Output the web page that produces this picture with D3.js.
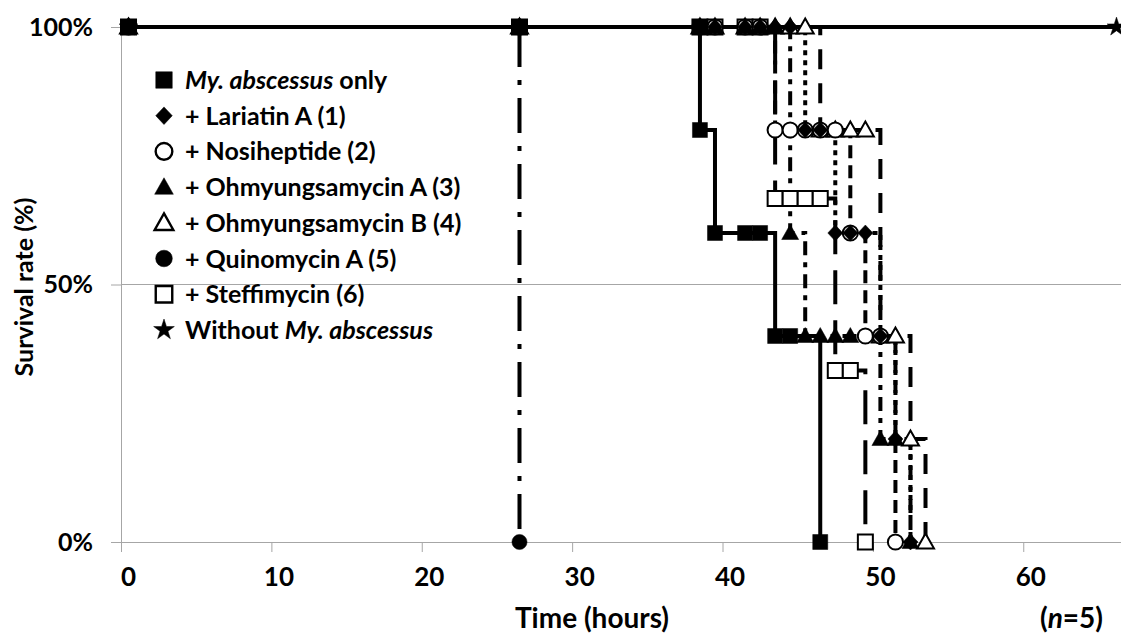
<!DOCTYPE html>
<html>
<head>
<meta charset="utf-8">
<script src="https://cdn.jsdelivr.net/npm/d3@7"></script>
<style>
  body { margin: 0; background: #fff; }
  svg { display: block; font-family: Lato, "Open Sans", sans-serif; font-weight: 700; }
</style>
</head>
<body>
<svg id="chart" width="1121" height="637"></svg>
<script>
// survival (%) observations per group, [hours, percent]
const abscessusOnly = [[0.5,100],[26.5,100],[38.5,100],[38.5,80],[39.5,60],[41.5,60],[42.5,60],[43.5,40],[44.5,40],[46.5,0]];
const lariatinA = [[0.5,100],[26.5,100],[38.5,100],[39.5,100],[41.5,100],[42.5,100],[43.5,100],[44.5,100],[45.5,80],[46.5,80],[47.5,60],[48.5,60],[49.5,60],[50.5,40],[51.5,20],[52.5,0]];
const nosiheptide = [[0.5,100],[26.5,100],[38.5,100],[39.5,100],[41.5,100],[42.5,100],[43.5,80],[44.5,80],[45.5,80],[46.5,80],[47.5,80],[48.5,60],[49.5,40],[50.5,40],[51.5,0]];
const ohmyungA = [[0.5,100],[26.5,100],[38.5,100],[39.5,100],[41.5,100],[42.5,100],[43.5,100],[44.5,60],[45.5,40],[46.5,40],[47.5,40],[48.5,40],[50.5,20],[51.5,20],[52.5,0]];
const ohmyungB = [[0.5,100],[26.5,100],[38.5,100],[39.5,100],[41.5,100],[42.5,100],[43.5,100],[44.5,100],[45.5,100],[46.5,80],[47.5,80],[48.5,80],[49.5,80],[50.5,40],[51.5,40],[52.5,20],[53.5,0]];
const quinomycinA = [[0.5,100],[26.5,0]];
const steffimycin = [[0.5,100],[26.5,100],[38.5,100],[39.5,100],[41.5,100],[42.5,100],[43.5,66.7],[44.5,66.7],[45.5,66.7],[46.5,66.7],[47.5,33.3],[48.5,33.3],[49.5,0]];
const withoutAbscessus = [[0.5,100],[66.2,100]];

const xTicks = [0, 10, 20, 30, 40, 50, 60];
const yTicks = [0, 50, 100];

// legend order
const legendItems = [
  {sym: "square", fill: "#000", parts: [["My. abscessus", true], [" only", false]]},
  {sym: "diamond", fill: "#000", parts: [["+ Lariatin A (1)", false]]},
  {sym: "circle", fill: "#fff", parts: [["+ Nosiheptide (2)", false]]},
  {sym: "triangle", fill: "#000", parts: [["+ Ohmyungsamycin A (3)", false]]},
  {sym: "triangle", fill: "#fff", parts: [["+ Ohmyungsamycin B (4)", false]]},
  {sym: "circle", fill: "#000", parts: [["+ Quinomycin A (5)", false]]},
  {sym: "square", fill: "#fff", parts: [["+ Steffimycin (6)", false]]},
  {sym: "star", fill: "#000", parts: [["Without ", false], ["My. abscessus", true]]}
];

// drawing order (bottom first)
const series = [
  {data: withoutAbscessus, sym: "star", fill: "#000", dash: null},
  {data: steffimycin, sym: "square", fill: "#fff", dash: "34,16"},
  {data: ohmyungB, sym: "triangle", fill: "#fff", dash: "20,14"},
  {data: nosiheptide, sym: "circle", fill: "#fff", dash: "13,7"},
  {data: quinomycinA, sym: "circle", fill: "#000", dash: "35,13,5,13"},
  {data: abscessusOnly, sym: "square", fill: "#000", dash: null},
  {data: ohmyungA, sym: "triangle", fill: "#000", dash: "14,7,5,7"},
  {data: lariatinA, sym: "diamond", fill: "#000", dash: "5,5"}
];

const svg = d3.select("#chart");
const x = d3.scaleLinear().domain([0, 66.5]).range([121, 1121]);
const y = d3.scaleLinear().domain([0, 100]).range([542, 27]);

function symbolPath(sym, k) {
  k = k || 1;
  if (sym === "square") return d3.symbol(d3.symbolSquare, 225 * k * k)();
  if (sym === "diamond") return "M0," + (-8 * k) + "L" + (7.5 * k) + ",0L0," + (8 * k) + "L" + (-7.5 * k) + ",0Z";
  if (sym === "triangle") return "M0," + (-8.5 * k) + "L" + (8.5 * k) + "," + (6.5 * k) + "L" + (-8.5 * k) + "," + (6.5 * k) + "Z";
  if (sym === "circle") return d3.symbol(d3.symbolCircle, 180 * k * k)();
  return d3.symbol(d3.symbolStar, 110 * k * k)();
}

// grid and axes
svg.append("g").selectAll("line").data([50, 100]).join("line")
  .attr("x1", x(0)).attr("x2", 1121)
  .attr("y1", d => y(d)).attr("y2", d => y(d))
  .attr("stroke", "#a6a6a6").attr("stroke-width", 1);

const xAxis = svg.append("g")
  .attr("transform", "translate(0," + y(0) + ")")
  .call(d3.axisBottom(x).tickValues(xTicks).tickSize(10).tickPadding(16).tickSizeOuter(0));
xAxis.select(".domain").attr("stroke", "#a6a6a6").attr("d", "M" + (x(0) - 10) + ",0.5H1121");
xAxis.selectAll(".tick line").attr("stroke", "#a6a6a6");
xAxis.selectAll(".tick text").attr("dx", 7).attr("fill", "#000")
  .style("font-size", "26px").style("font-family", "Lato").style("font-weight", 700);

const yAxis = svg.append("g")
  .attr("transform", "translate(" + x(0) + ",0)")
  .call(d3.axisLeft(y).tickValues(yTicks).tickFormat(d => d + "%").tickSize(10).tickPadding(18).tickSizeOuter(0));
yAxis.select(".domain").attr("stroke", "#a6a6a6").attr("d", "M0.5," + y(100) + "V" + (y(0) + 10));
yAxis.selectAll(".tick line").attr("stroke", "#a6a6a6");
yAxis.selectAll(".tick text").attr("fill", "#000")
  .style("font-size", "25px").style("font-family", "Lato").style("font-weight", 700);

// survival lines
const line = d3.line().x(d => x(d[0])).y(d => y(d[1])).curve(d3.curveStepAfter);

svg.append("g").selectAll("path").data(series).join("path")
  .attr("d", d => line(d.data))
  .attr("fill", "none")
  .attr("stroke", "#000")
  .attr("stroke-width", 4)
  .attr("stroke-dasharray", d => d.dash);

// markers
const markers = svg.append("g");
series.forEach(function (s) {
  markers.append("g").selectAll("path").data(s.data).join("path")
    .attr("transform", d => "translate(" + x(d[0]) + "," + y(d[1]) + ")")
    .attr("d", symbolPath(s.sym))
    .attr("fill", s.fill)
    .attr("stroke", "#000")
    .attr("stroke-width", s.fill === "#fff" ? 2 : 0.5);
});

// legend
const legend = svg.append("g").attr("transform", "translate(164,80)");
const items = legend.selectAll("g").data(legendItems).join("g")
  .attr("transform", (d, i) => "translate(0," + (i * 35.7) + ")");
items.append("path")
  .attr("d", d => symbolPath(d.sym, 1.1))
  .attr("fill", d => d.fill)
  .attr("stroke", "#000")
  .attr("stroke-width", d => d.fill === "#fff" ? 2.4 : 0.5);
const texts = items.append("text")
  .attr("x", 21).attr("y", 9)
  .style("font-size", "25px");
texts.selectAll("tspan").data(d => d.parts).join("tspan")
  .attr("font-style", d => d[1] ? "italic" : "normal")
  .text(d => d[0]);

// axis titles
svg.append("text")
  .attr("transform", "translate(33,287) rotate(-90)")
  .attr("text-anchor", "middle")
  .style("font-size", "25px")
  .text("Survival rate (%)");

svg.append("text")
  .attr("x", 592).attr("y", 628)
  .attr("text-anchor", "middle")
  .style("font-size", "28px")
  .text("Time (hours)");

const nText = svg.append("text")
  .attr("x", 1103).attr("y", 628)
  .attr("text-anchor", "end")
  .style("font-size", "28px");
nText.append("tspan").text("(");
nText.append("tspan").attr("font-style", "italic").text("n");
nText.append("tspan").text("=5)");
</script>
</body>
</html>
